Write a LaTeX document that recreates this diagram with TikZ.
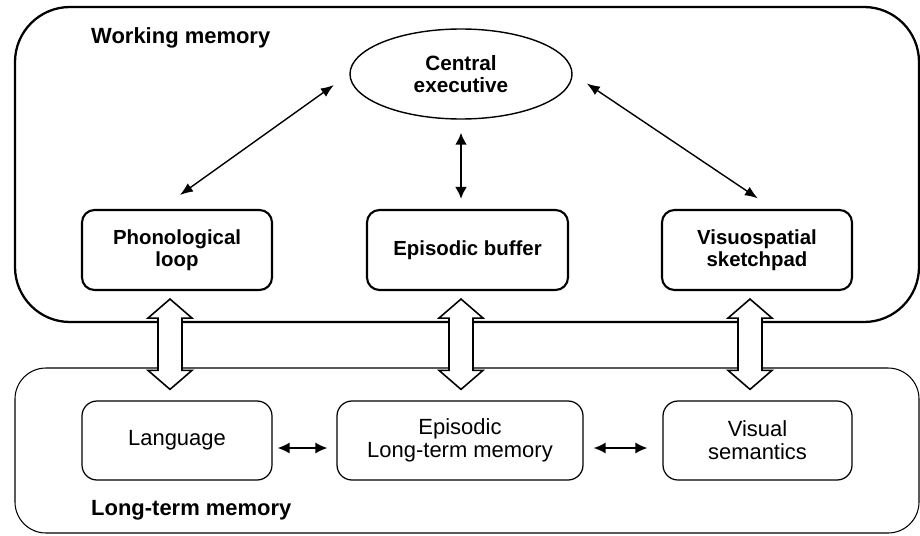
\documentclass[tikz,border=0pt]{standalone}
\usepackage{fontspec}
\setmainfont{Liberation Sans}
\usepackage{tikz}
\usetikzlibrary{arrows.meta,positioning,calc,shapes.geometric}

\begin{document}
\begin{tikzpicture}[font=\fontsize{12.5}{13.1}\selectfont,
  frame/.style={draw, rounded corners=1.1cm, line width=1.3pt, minimum width=18.08cm},
  ltmframe/.style={draw, rounded corners=0.62cm, line width=0.6pt, minimum width=18.08cm},
  title/.style={anchor=west, font=\fontsize{12.5}{14}\selectfont\bfseries},
  wmbox/.style={draw, rounded corners=0.25cm, line width=1.2pt, align=center, minimum height=1.6cm, font=\fontsize{11.6}{12.6}\selectfont\bfseries},
  ltmbox/.style={draw, rounded corners=0.3cm, line width=0.7pt, align=center, minimum height=1.58cm},
  link/.style={{Latex[length=2.6mm,width=2mm]}-{Latex[length=2.6mm,width=2mm]}, line width=0.8pt},
  vlink/.style={{Latex[length=2.4mm,width=2.4mm]}-{Latex[length=2.4mm,width=2.4mm]}, line width=1.5pt},
  hlink/.style={{Latex[length=2.4mm,width=2.2mm]}-{Latex[length=2.4mm,width=2.2mm]}, line width=0.75pt},
  bigarrow/.style={draw, line width=0.9pt, fill=white, line join=miter,
    to path={let \p1=(\tikztostart), \p2=(\tikztotarget) in
      (\x1,\y1) -- (\x1+0.44cm,\y1-0.38cm) -- (\x1+0.24cm,\y1-0.38cm) -- (\x1+0.24cm,\y2+0.38cm)
      -- (\x1+0.44cm,\y2+0.38cm) -- (\x1,\y2) -- (\x1-0.44cm,\y2+0.38cm) -- (\x1-0.24cm,\y2+0.38cm)
      -- (\x1-0.24cm,\y1-0.38cm) -- (\x1-0.44cm,\y1-0.38cm) -- cycle}}]
\useasboundingbox (0,0) rectangle (18.4,10.7);
\node[frame, minimum height=6.3cm] (wm) at (9.34,7.41) {};
\node[ltmframe, minimum height=3.3cm] (ltm) at (9.34,1.69) {};
\node[title] (wmtitle) at (1.7,9.94) {Working memory};
\node[title] (ltmtitle) at (1.7,0.5) {Long-term memory};
\node[ellipse, draw, line width=0.8pt, minimum width=4.44cm, minimum height=1.8cm, align=center,
  font=\fontsize{11.8}{12.8}\selectfont\bfseries] (ce) at (9.22,9.22) {Central\\executive};
\node[wmbox, minimum width=3.8cm]  (phon) at (3.54,5.70)  {Phonological\\loop};
\node[wmbox, minimum width=4.02cm] (buf)  at (9.35,5.70)  {Episodic buffer};
\node[wmbox, minimum width=3.8cm]  (vis)  at (15.14,5.70) {Visuospatial\\sketchpad};
\node[ltmbox, minimum width=3.8cm]  (lang) at (3.54,1.89)  {Language};
\node[ltmbox, minimum width=4.92cm] (eltm) at (9.2,1.89)   {Episodic\\Long-term memory};
\node[ltmbox, minimum width=3.78cm] (vsem) at (15.15,1.89) {Visual\\semantics};
\draw[link, shorten <=0.38cm, shorten >=0.48cm] (ce.west) -- (phon.112);
\draw[link, shorten <=0.34cm, shorten >=0.38cm] (ce.east) -- (vis.68);
\draw[vlink, shorten <=0.26cm, shorten >=0.2cm] (ce.south) -- (ce.south |- buf.north);
\draw[hlink, shorten <=0.1cm, shorten >=0.18cm] ([yshift=-0.15cm]lang.east) -- ([yshift=-0.15cm]eltm.west);
\draw[hlink, shorten <=0.2cm, shorten >=0.3cm] ([yshift=-0.15cm]eltm.east) -- ([yshift=-0.15cm]vsem.west);
\draw[bigarrow] ([shift={(-0.14,-0.16)}]phon.south) to ([shift={(-0.14,0.22)}]lang.north);
\draw[bigarrow] ([shift={(-0.13,-0.16)}]buf.south) to ([shift={(-0.13,0.22)}]eltm.north);
\draw[bigarrow] ([shift={(-0.14,-0.16)}]vis.south) to ([shift={(-0.14,0.22)}]vsem.north);
\end{tikzpicture}
\end{document}
